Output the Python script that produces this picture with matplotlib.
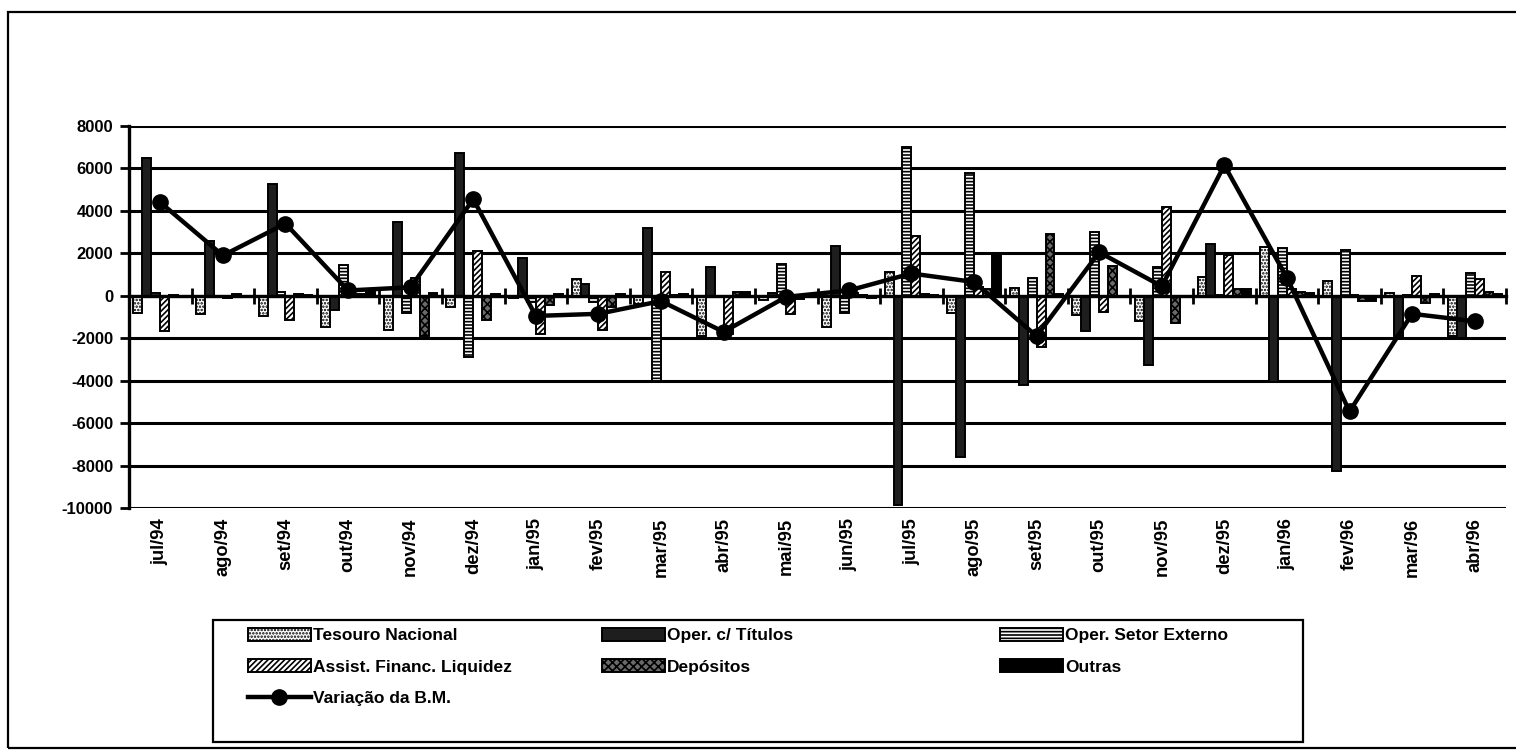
# Imports
import numpy as np
import matplotlib
matplotlib.use("Agg")
import matplotlib.pyplot as plt
import matplotlib.transforms as mtransforms
from matplotlib.patches import Rectangle, Patch
from matplotlib.lines import Line2D

# Data (milhoes R$)
meses = ["jul/94", "ago/94", "set/94", "out/94", "nov/94", "dez/94", "jan/95", "fev/95",
         "mar/95", "abr/95", "mai/95", "jun/95", "jul/95", "ago/95", "set/95", "out/95",
         "nov/95", "dez/95", "jan/96", "fev/96", "mar/96", "abr/96"]

tesouro = [-800, -850, -950, -1450, -1600, -550, -100, 800, -400, -1900, -200, -1450,
           1100, -800, 350, -900, -1200, 900, 2300, 700, 150, -1900]
titulos = [6500, 2600, 5250, -650, 3500, 6750, 1800, 550, 3200, 1350, 150, 2350,
           -9850, -7600, -4200, -1650, -3250, 2450, -4050, -8250, -1900, -2000]
externo = [150, 0, 200, 1450, -800, -2900, -300, -300, -4000, 0, 1500, -800,
           7000, 5800, 850, 3000, 1350, 50, 2250, 2150, 50, 1050]
assist = [-1650, -100, -1150, 50, 850, 2100, -1800, -1600, 1100, -1800, -850, 150,
          2800, 400, -2400, -750, 4200, 1900, 300, 50, 950, 800]
depositos = [50, 100, 100, 100, -1900, -1150, -450, -550, 50, 200, -150, 50,
             100, 300, 2900, 1400, -1300, 300, 200, -250, -350, 200]
outras = [0, 0, 50, 200, 150, 100, 100, 100, 100, 200, 100, -100,
          50, 2000, 100, 0, 0, 300, 150, -250, 100, 100]
variacao = [4400, 1900, 3400, 250, 400, 4550, -950, -850, -250, -1700, -50, 250,
            1050, 650, -1900, 2050, 450, 6150, 850, -5450, -850, -1200]

y_ticks = [8000, 6000, 4000, 2000, 0, -2000, -4000, -6000, -8000, -10000]

# Styles
plt.rcParams['font.family'] = ['Liberation Sans', 'DejaVu Sans']
plt.rcParams['hatch.linewidth'] = 1.2

series = [
    ("Tesouro Nacional", tesouro, "white", "....."),
    ("Oper. c/ Títulos", titulos, "#1e1e1e", None),
    ("Oper. Setor Externo", externo, "white", "-----"),
    ("Assist. Financ. Liquidez", assist, "white", "//////"),
    ("Depósitos", depositos, "#6a6a6a", "xxxx"),
    ("Outras", outras, "black", None),
]

fig = plt.figure(figsize=(15.16, 7.51), dpi=100)
ax = fig.add_axes([129 / 1516, 1 - 508 / 751, 1377 / 1516, 382 / 751])

x = np.arange(len(meses))
n = len(series)
w = 1.0 / (n + 1)

handles = {}
for i, (name, vals, face, hatch) in enumerate(series):
    ax.bar(x + (i - (n - 1) / 2) * w, vals, width=w, color=face, edgecolor="black",
           hatch=hatch, linewidth=1.4, zorder=3)
    handles[name] = Patch(facecolor=face, edgecolor="black", hatch=hatch, linewidth=1.4)

ax.plot(x, variacao, color="black", linewidth=3.2, marker="o", markersize=11, zorder=5)
handles["Variação da B.M."] = Line2D([], [], color="black", linewidth=3.2, marker="o", markersize=11)

# Axes
ax.set_xlim(-0.5, len(meses) - 0.5)
ax.set_ylim(-10000, 8000)
ax.set_yticks(y_ticks)
ax.set_yticklabels([str(v) for v in y_ticks], fontsize=12, fontweight="bold")
ax.yaxis.grid(True, color="black", linewidth=2.2)
ax.set_axisbelow(True)
ax.tick_params(axis="y", direction="out", length=6.5, width=2, pad=5)

for s in ["top", "right"]:
    ax.spines[s].set_visible(False)
ax.spines["left"].set_linewidth(2.4)
ax.spines["bottom"].set_position(("data", 0))
ax.spines["bottom"].set_linewidth(2.4)
ax.spines["bottom"].set_zorder(4)

ax.set_xticks([])
ax.set_xticks(np.arange(len(meses) + 1) - 0.5, minor=True)
ax.tick_params(axis="x", which="minor", direction="inout", length=12, width=2, labelbottom=False)

trans = mtransforms.blended_transform_factory(ax.transData, ax.transAxes)
for i, m in enumerate(meses):
    ax.text(i, -0.026, m, transform=trans, rotation=90, ha="center", va="top",
            fontsize=13.2, fontweight="bold")

# Outer frame and legend frame
fig.patches.append(Rectangle((8 / 1516, 1 - 748 / 751), 1.2, (748 - 12) / 751,
                             transform=fig.transFigure, fill=False, edgecolor="black",
                             linewidth=1.6))
fig.patches.append(Rectangle((213 / 1516, 1 - 742 / 751), (1303 - 213) / 1516, (742 - 620) / 751,
                             transform=fig.transFigure, fill=False, edgecolor="black",
                             linewidth=1.6))

# Legend in three columns
cols = [
    (248, ["Tesouro Nacional", "Assist. Financ. Liquidez", "Variação da B.M."]),
    (602, ["Oper. c/ Títulos", "Depósitos"]),
    (1000, ["Oper. Setor Externo", "Outras"]),
]
for xpos, names in cols:
    leg = fig.legend([handles[k] for k in names], names, loc="upper left",
                     bbox_to_anchor=(xpos / 1516, 1 - 628 / 751), bbox_transform=fig.transFigure,
                     frameon=False, borderpad=0, borderaxespad=0, handlelength=3.6,
                     handleheight=0.75, handletextpad=0.15, labelspacing=0.92,
                     prop={"size": 12.5, "weight": "bold", "family": ["Liberation Sans Narrow", "Liberation Sans"]})

fig.savefig("out.png", dpi=100)
